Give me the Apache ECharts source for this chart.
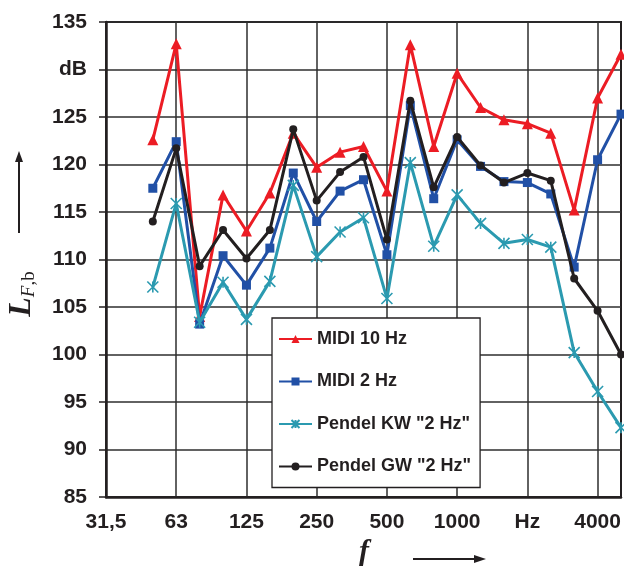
<!DOCTYPE html>
<html>
<head>
<meta charset="utf-8">
<script src="https://cdn.jsdelivr.net/npm/echarts@6/dist/echarts.min.js"></script>
<style>
html,body{margin:0;padding:0;background:#fff;}
#chart{width:624px;height:569px;}
</style>
</head>
<body>
<div id="chart"></div>
<script>
// Third-octave band centre frequencies (Hz)
var categories = ['31.5','40','50','63','80','100','125','160','200','250','315','400','500','630','800','1000','1250','1600','2000','2500','3150','4000','5000'];
// Tick labels shown at octave positions
var tickLabels = {'31.5':'31,5','63':'63','125':'125','250':'250','500':'500','1000':'1000','2000':'Hz','4000':'4000'};
var yTickLabels = {130:'dB'};

var midi10 = [null,null,122.6,132.7,104.0,116.8,113.0,117.0,123.3,119.7,121.3,121.9,117.2,132.6,121.9,129.6,126.0,124.7,124.3,123.3,115.2,127.0,131.6];
var midi2  = [null,null,117.5,122.4,103.2,110.4,107.3,111.2,119.1,114.0,117.2,118.4,110.5,126.2,116.4,122.6,119.8,118.2,118.1,116.9,109.2,120.5,125.3];
var pendelKW = [null,null,107.1,115.9,103.4,107.6,103.7,107.7,117.8,110.3,112.9,114.4,105.9,120.2,111.4,116.8,113.8,111.7,112.1,111.3,100.2,96.1,92.3];
var pendelGW = [null,null,114.0,121.7,109.3,113.1,110.1,113.1,123.7,116.2,119.2,120.8,112.1,126.7,117.6,122.9,119.9,118.1,119.1,118.3,108.0,104.6,100.0];

var seriesNames = ['MIDI 10 Hz','MIDI 2 Hz','Pendel KW "2 Hz"','Pendel GW "2 Hz"'];
var colors = ['#ec1c24','#2150a6','#2b9ab0','#231f20'];

var crossPath = 'path://M0,0L10,10M10,0L0,10M5,0L5,10';

var chart = echarts.init(document.getElementById('chart'));
var ink = '#231f20';
var labelFont = {fontFamily:'Liberation Sans, Arial, sans-serif', fontWeight:'bold', fontSize:21, color:ink};

function mkSeries(i, data, symbol, size, extra){
  var s = {
    name: seriesNames[i], type:'line', data:data, symbol:symbol, symbolSize:size,
    showAllSymbol:true, connectNulls:false,
    lineStyle:{color:colors[i], width:3},
    itemStyle:{color:colors[i], borderColor:colors[i], borderWidth:0},
    emphasis:{disabled:true}, animation:false, z:2+i
  };
  if (extra) { s.itemStyle = Object.assign(s.itemStyle, extra); }
  return s;
}

var option = {
  animation:false,
  grid:{left:106, right:2, top:22, bottom:72, show:true, borderColor:ink, borderWidth:2, backgroundColor:'#fff'},
  xAxis:{
    type:'category', data:categories, boundaryGap:false,
    axisLine:{show:true, lineStyle:{color:ink, width:2.5}},
    axisTick:{show:false},
    axisLabel:Object.assign({interval:0, margin:15, formatter:function(v){return tickLabels[v]||'';}}, labelFont),
    splitLine:{show:true, interval:function(idx){return idx%3===0;}, lineStyle:{color:'#2e2e2e', width:1.5}}
  },
  yAxis:{
    type:'value', min:85, max:135, interval:5,
    axisLine:{show:true, lineStyle:{color:ink, width:2.5}},
    axisTick:{show:true, inside:false, length:7, lineStyle:{color:ink, width:1.5}},
    axisLabel:Object.assign({margin:19, formatter:function(v){return yTickLabels[v]||String(v);}}, labelFont),
    splitLine:{show:true, lineStyle:{color:'#2e2e2e', width:1.5}}
  },
  legend:{
    orient:'vertical', left:272, top:318,
    data:seriesNames,
    backgroundColor:'#fff', borderColor:ink, borderWidth:1.3,
    padding:[11,9,11,6], itemGap:22.5, itemWidth:33, itemHeight:10, itemTextGap:4,
    textStyle:{fontFamily:'Liberation Sans, Arial, sans-serif', fontWeight:'bold', fontSize:18, color:ink, lineHeight:20},
    selectedMode:false
  },
  series:[
    mkSeries(0, midi10, 'triangle', 11),
    mkSeries(1, midi2, 'rect', 9),
    mkSeries(2, pendelKW, crossPath, 11, {borderWidth:1.6, color:colors[2]}),
    mkSeries(3, pendelGW, 'circle', 8)
  ],
  graphic:[
    // y-axis name with arrow
    {type:'text', rotation:Math.PI/2, x:22, y:294,
      style:{
        text:'{L|L}{F|F}{s|,b}',
        align:'center', verticalAlign:'middle',
        rich:{
          L:{fontFamily:'Liberation Serif, DejaVu Serif, serif', fontStyle:'italic', fontWeight:'bold', fontSize:32, fill:ink},
          F:{fontFamily:'Liberation Serif, DejaVu Serif, serif', fontStyle:'italic', fontSize:19, fill:ink, verticalAlign:'bottom', padding:[14,0,0,0]},
          s:{fontFamily:'Liberation Serif, DejaVu Serif, serif', fontSize:19, fill:ink, verticalAlign:'bottom', padding:[14,0,0,0]}
        }
      }},
    {type:'line', shape:{x1:19, y1:233, x2:19, y2:160}, style:{stroke:ink, lineWidth:2}},
    {type:'polygon', shape:{points:[[19,151],[15,162],[23,162]]}, style:{fill:ink}},
    // x-axis name with arrow
    {type:'text', x:364, y:552,
      style:{text:'f', fontFamily:'Liberation Serif, DejaVu Serif, serif', fontStyle:'italic', fontWeight:'bold', fontSize:30, fill:ink, align:'center', verticalAlign:'middle'}},
    {type:'line', shape:{x1:413, y1:559, x2:476, y2:559}, style:{stroke:ink, lineWidth:2}},
    {type:'polygon', shape:{points:[[486,559],[474,555],[474,563]]}, style:{fill:ink}}
  ]
};
chart.setOption(option);
</script>
</body>
</html>
